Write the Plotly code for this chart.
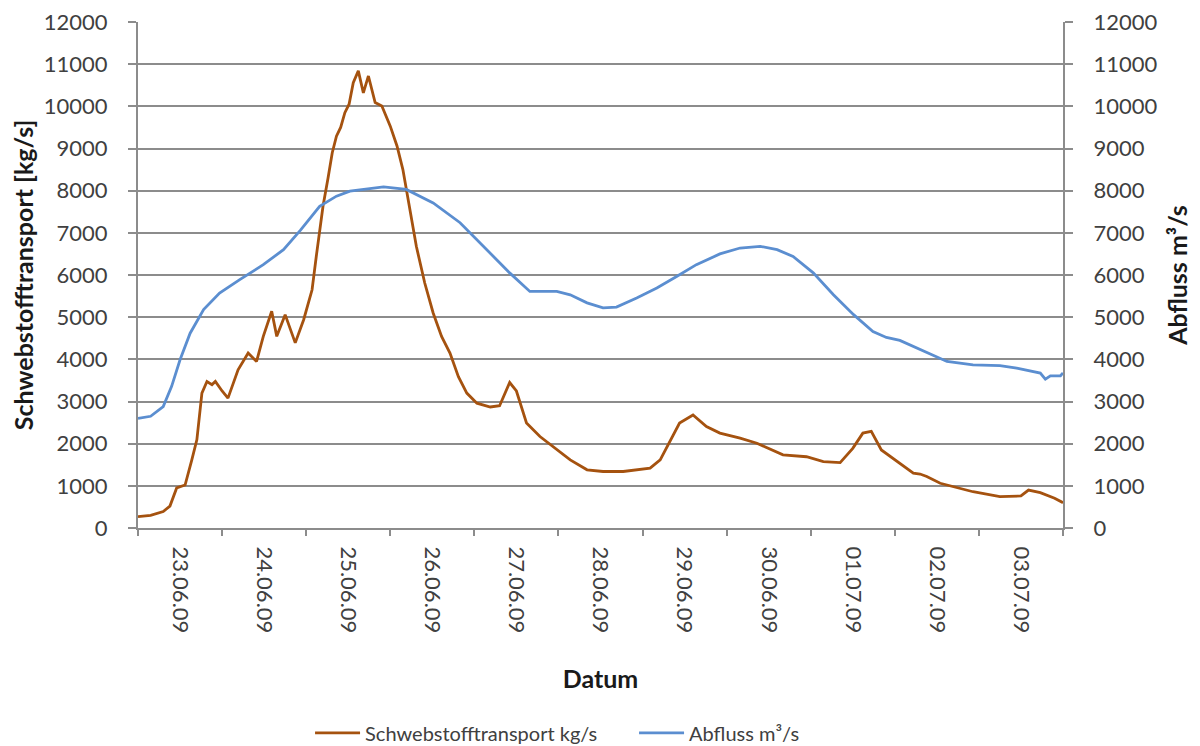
import pandas as pd
import plotly.graph_objects as go

START = "2009-06-23"

# Schwebstofftransport kg/s  (day offset from 23.06.09 00:00, value)
sed_days = [0.00, 0.15, 0.30, 0.38, 0.46, 0.56, 0.64, 0.70, 0.76, 0.82, 0.88, 0.92,
            1.00, 1.07, 1.19, 1.31, 1.41, 1.49, 1.59, 1.65, 1.75, 1.87, 1.97,
            2.07, 2.12, 2.20, 2.26, 2.31, 2.36, 2.41, 2.46, 2.51, 2.56, 2.62, 2.68, 2.74, 2.82, 2.90,
            3.00, 3.08, 3.15, 3.23, 3.31, 3.41, 3.51, 3.61, 3.71, 3.81, 3.91,
            4.03, 4.19, 4.30, 4.42, 4.50, 4.62, 4.78, 4.98,
            5.14, 5.34, 5.53, 5.77, 6.09, 6.21, 6.33, 6.44, 6.60, 6.76, 6.92,
            7.16, 7.36, 7.67, 7.95, 8.15, 8.35, 8.50, 8.62, 8.72, 8.84,
            9.06, 9.22, 9.30, 9.38, 9.54, 9.93, 10.25, 10.50, 10.59, 10.73, 10.90, 11.00]
sed_vals = [270, 300, 390, 520, 950, 1020, 1615, 2090, 3200, 3475, 3400, 3475,
            3250, 3080, 3750, 4150, 3950, 4545, 5140, 4545, 5060, 4390, 4940,
            5650, 6440, 7630, 8300, 8900, 9290, 9500, 9850, 10050, 10560, 10840, 10320, 10720, 10090, 10010,
            9530, 9060, 8500, 7630, 6680, 5810, 5100, 4545, 4150, 3590, 3200,
            2960, 2870, 2900, 3450, 3250, 2490, 2170, 1850,
            1615, 1380, 1340, 1340, 1420, 1615, 2090, 2490, 2680, 2405, 2250,
            2130, 2010, 1735, 1690, 1575, 1550, 1890, 2250, 2290, 1850,
            1535, 1300, 1280, 1220, 1060, 860, 745, 760, 900, 840, 705, 600]

# Abfluss m³/s
q_days = [0.00, 0.15, 0.30, 0.40, 0.50, 0.62, 0.78, 0.97, 1.21, 1.49, 1.73, 1.93,
          2.16, 2.36, 2.52, 2.92, 3.19, 3.51, 3.83, 4.07, 4.30, 4.42, 4.66, 4.98,
          5.14, 5.34, 5.53, 5.69, 5.93, 6.17, 6.41, 6.64, 6.92, 7.16, 7.40, 7.60,
          7.79, 8.03, 8.27, 8.51, 8.74, 8.90, 9.06, 9.38, 9.62, 9.93, 10.25, 10.45,
          10.73, 10.79, 10.85, 10.97, 11.00]
q_vals = [2600, 2650, 2880, 3360, 3990, 4620, 5180, 5570, 5890, 6245, 6600, 7060,
          7630, 7870, 7990, 8090, 8030, 7710, 7240, 6760, 6290, 6050, 5610, 5610,
          5530, 5340, 5220, 5240, 5455, 5690, 5970, 6245, 6500, 6640, 6680, 6600,
          6440, 6050, 5530, 5060, 4660, 4520, 4450, 4170, 3950, 3870, 3850, 3790,
          3675, 3530, 3610, 3610, 3675]

y_ticks = list(range(0, 12001, 1000))

start = pd.Timestamp(START)
sed_t = start + pd.to_timedelta(sed_days, unit="D")
q_t = start + pd.to_timedelta(q_days, unit="D")

FONT = "Lato"
GRID = "#8c8c8c"
TXT = "#404040"
TS = 22
TT = 25

fig = go.Figure()
fig.add_trace(go.Scatter(x=sed_t, y=sed_vals, mode="lines", name="Schwebstofftransport kg/s",
                         line=dict(color="#A5520F", width=2.8), yaxis="y"))
fig.add_trace(go.Scatter(x=q_t, y=q_vals, mode="lines", name="Abfluss m³/s",
                         line=dict(color="#5B8ED0", width=2.8), yaxis="y2"))

fig.update_layout(
    width=1200, height=746,
    paper_bgcolor="white", plot_bgcolor="white",
    margin=dict(l=130, r=145, t=14, b=226, autoexpand=False),
    font=dict(family=FONT, size=TS, color=TXT),
    showlegend=True,
    legend=dict(orientation="h", x=0.186, xanchor="left", y=-0.405, yanchor="middle",
                font=dict(size=20, color=TXT), itemwidth=45,
                entrywidth=264, entrywidthmode="pixels"),
    xaxis=dict(
        type="date", automargin=False,
        range=[start, start + pd.Timedelta(days=11)],
        dtick=86400000, tick0=START, ticklabelmode="period",
        tickformat="%d.%m.%y", tickangle=90,
        ticks="outside", ticklen=6, tickcolor=GRID, tickwidth=1.5,
        showline=True, linecolor=GRID, linewidth=2,
        showgrid=False, zeroline=False,
        ticklabelstandoff=6,
        tickfont=dict(size=TS, color=TXT),
        title=dict(text="<b>Datum</b>", font=dict(size=TT, color="#1a1a1a"), standoff=38),
    ),
    yaxis=dict(
        automargin=False, ticklabeloverflow="allow",
        range=[0, 12000], tickvals=y_ticks, ticktext=[str(v) for v in y_ticks],
        ticks="outside", ticklen=8, tickcolor=GRID, tickwidth=1.5,
        showline=True, linecolor=GRID, linewidth=2,
        showgrid=True, gridcolor=GRID, gridwidth=1.5, zeroline=False,
        ticklabelstandoff=16,
        tickfont=dict(size=TS, color=TXT),
        title=dict(text="<b>Schwebstofftransport [kg/s]</b>", font=dict(size=TT, color="#1a1a1a"), standoff=5),
    ),
    yaxis2=dict(
        automargin=False, ticklabeloverflow="allow",
        range=[0, 12000], tickvals=y_ticks, ticktext=[str(v) for v in y_ticks],
        overlaying="y", side="right",
        ticks="outside", ticklen=8, tickcolor=GRID, tickwidth=1.5,
        showline=True, linecolor=GRID, linewidth=2,
        showgrid=False, zeroline=False,
        ticklabelstandoff=16,
        tickfont=dict(size=TS, color=TXT),
        title=dict(text="<b>Abfluss m³/s</b>", font=dict(size=TT, color="#1a1a1a"), standoff=13),
    ),
)

fig.write_html("out.html")
